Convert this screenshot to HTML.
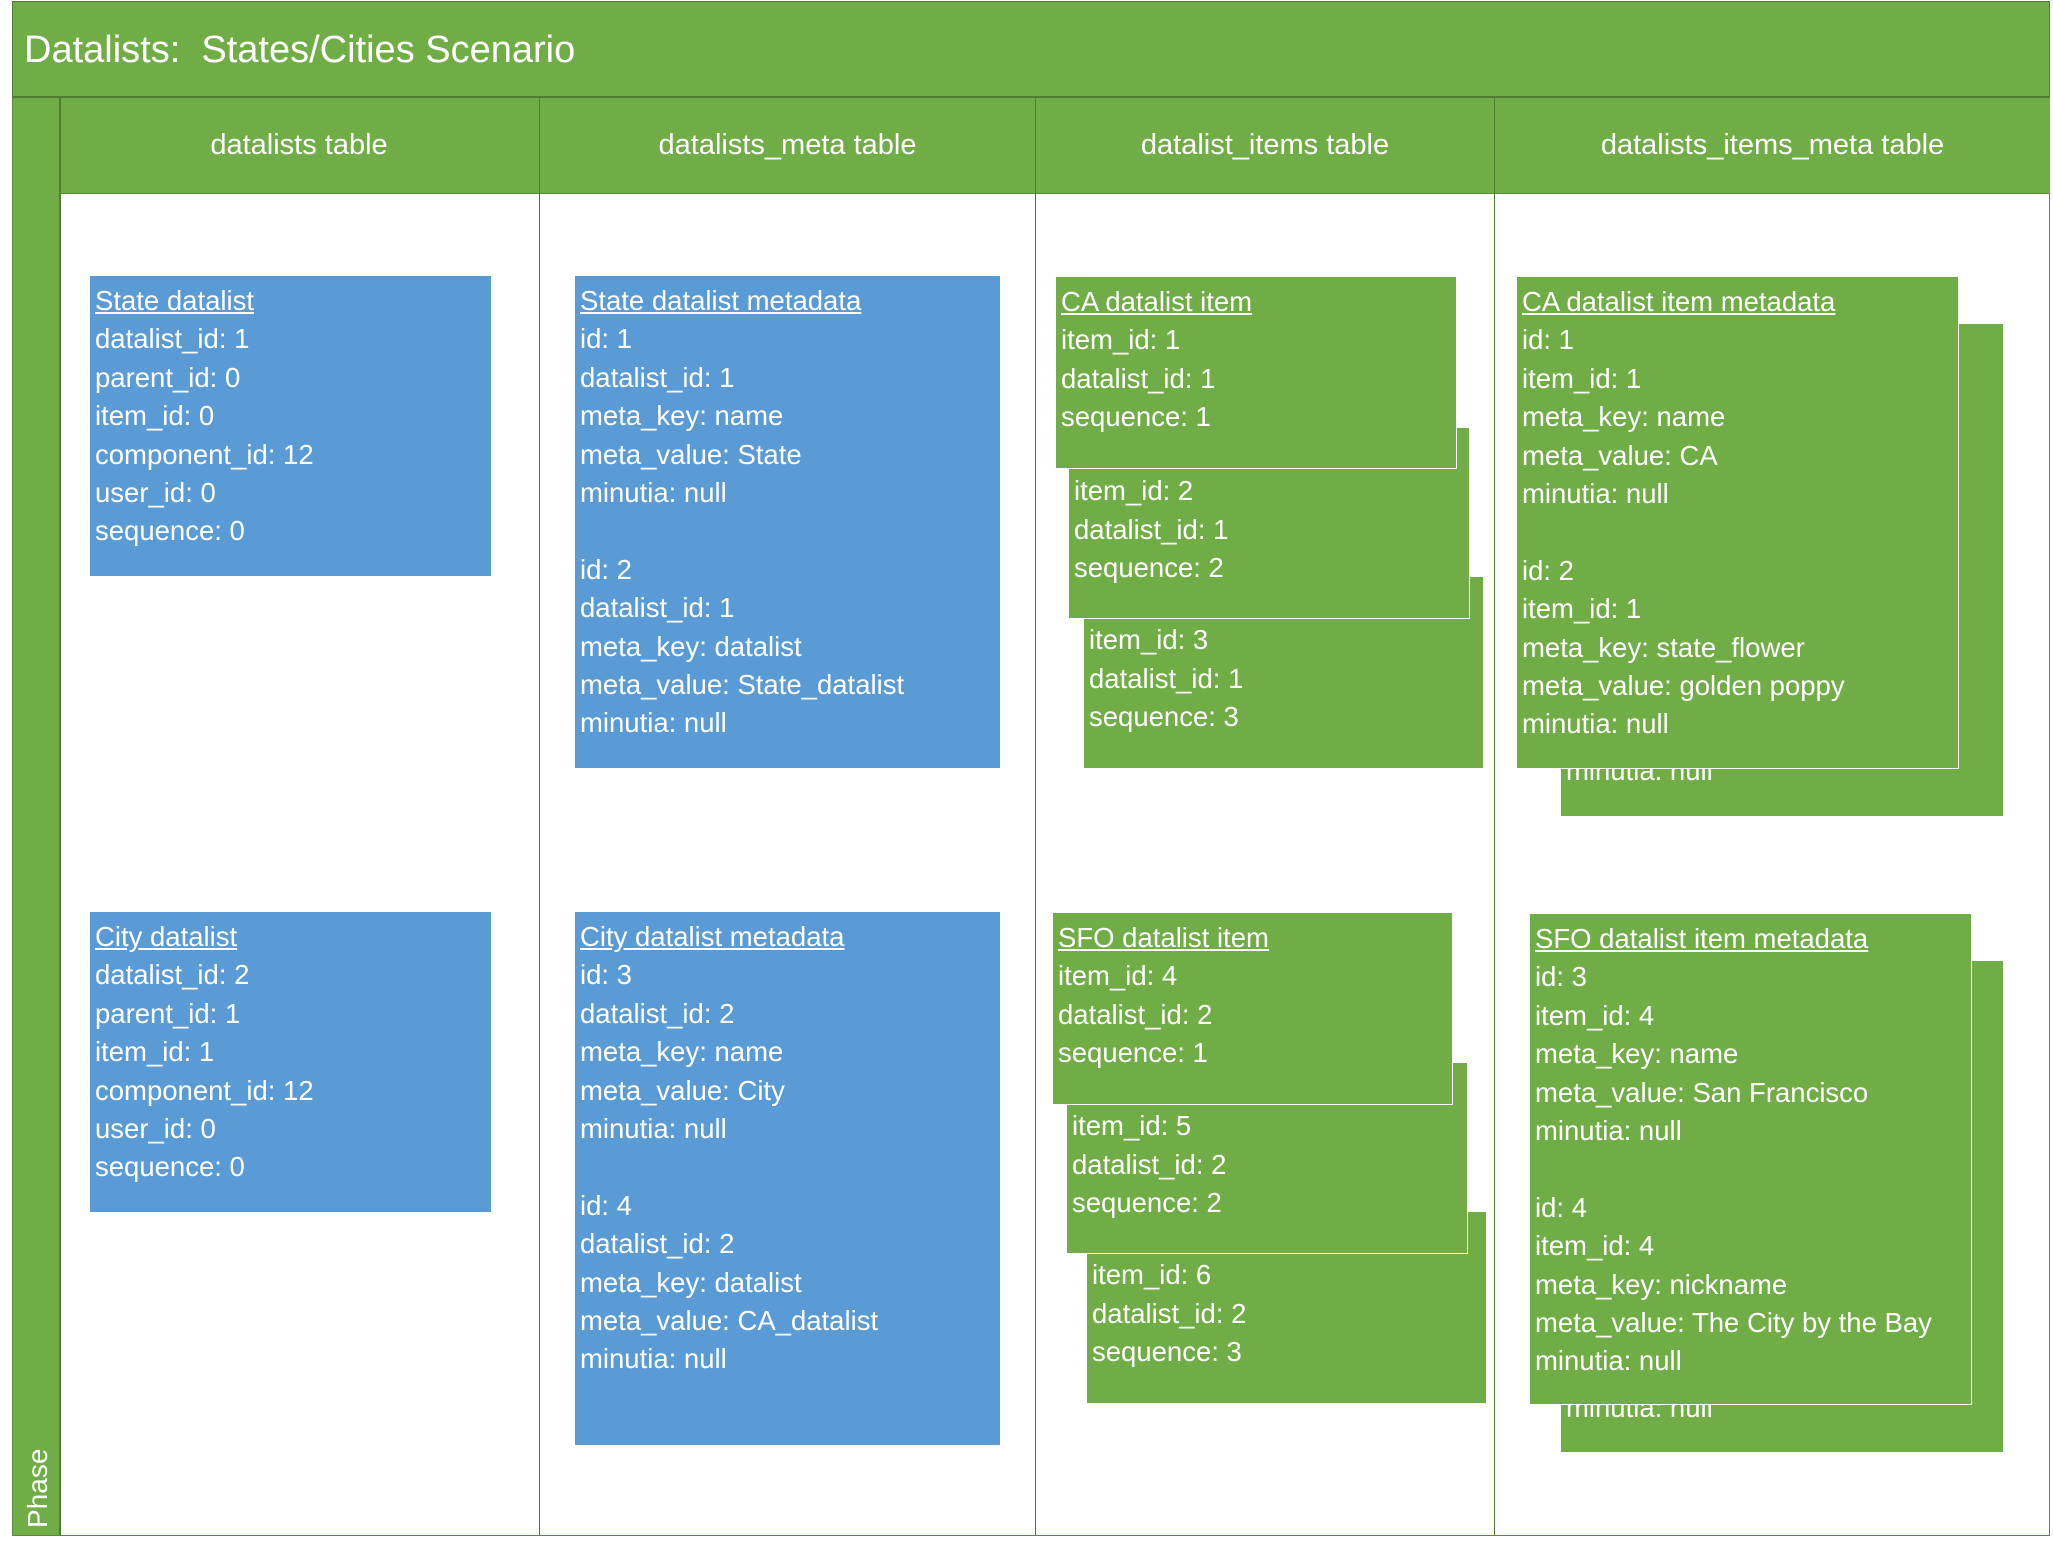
<!DOCTYPE html>
<html><head><meta charset="utf-8"><style>
*{margin:0;padding:0;box-sizing:border-box}
body{width:2053px;height:1548px;background:#fff;position:relative;overflow:hidden;font-family:"Liberation Sans",sans-serif;color:#fff}
.a{position:absolute}
.g{background:#70AD47}
.b{background:#5B9BD5}
.box{position:absolute;padding:6px 5px;font-size:27.5px;line-height:38.4px;white-space:nowrap;overflow:hidden}
.w{border:1.5px solid #fff}
.t{text-decoration:underline}
.hd{position:absolute;top:97px;height:97px;line-height:97px;text-align:center;font-size:29px;border-left:1.5px solid #4f7d33}
</style></head><body>
<div class="a g" style="left:12px;top:1px;width:2038px;height:96px;border:1.5px solid #4f7d33"></div>
<div class="a" style="left:24px;top:29px;font-size:38px;white-space:nowrap">Datalists:&nbsp; States/Cities Scenario</div>
<div class="a g" style="left:12px;top:96px;width:48px;height:1440px;border:1.5px solid #4f7d33"></div>
<div class="a" style="left:12px;top:96px;width:2038px;height:1440px;border:1.5px solid #5a8a3a;border-top:none"></div>
<div class="a g" style="left:59px;top:96px;width:1991px;height:98px;border-bottom:1px solid #5a8a3a"></div>
<div class="hd" style="left:59px;width:480px;border-left:none">datalists table</div>
<div class="hd" style="left:539px;width:496px">datalists_meta table</div>
<div class="hd" style="left:1035px;width:459px">datalist_items table</div>
<div class="hd" style="left:1494px;width:556px">datalists_items_meta table</div>
<div class="a" style="left:12px;top:96px;width:2038px;height:2px;background:#4f7d33"></div>
<div class="a" style="left:59px;top:97px;width:1.5px;height:1439px;background:#4f7d33"></div>
<div class="a" style="left:539px;top:194px;width:1px;height:1342px;background:#4f7d33"></div>
<div class="a" style="left:1035px;top:194px;width:1px;height:1342px;background:#4f7d33"></div>
<div class="a" style="left:1494px;top:194px;width:1px;height:1342px;background:#4f7d33"></div>
<div class="a" style="left:18px;top:1454px;width:40px;height:76px"><div style="position:absolute;left:-18px;top:20px;width:76px;font-size:28px;transform:rotate(-90deg);white-space:nowrap">Phase</div></div>

<div class="box b" style="left:90px;top:276px;width:401px;height:300px"><span class="t">State datalist</span><br>datalist_id: 1<br>parent_id: 0<br>item_id: 0<br>component_id: 12<br>user_id: 0<br>sequence: 0</div>
<div class="box b" style="left:575px;top:276px;width:425px;height:492px"><span class="t">State datalist metadata</span><br>id: 1<br>datalist_id: 1<br>meta_key: name<br>meta_value: State<br>minutia: null<br><br>id: 2<br>datalist_id: 1<br>meta_key: datalist<br>meta_value: State_datalist<br>minutia: null</div>
<div class="box b" style="left:90px;top:912px;width:401px;height:300px"><span class="t">City datalist</span><br>datalist_id: 2<br>parent_id: 1<br>item_id: 1<br>component_id: 12<br>user_id: 0<br>sequence: 0</div>
<div class="box b" style="left:575px;top:912px;width:425px;height:533px"><span class="t">City datalist metadata</span><br>id: 3<br>datalist_id: 2<br>meta_key: name<br>meta_value: City<br>minutia: null<br><br>id: 4<br>datalist_id: 2<br>meta_key: datalist<br>meta_value: CA_datalist<br>minutia: null</div>

<div class="box g w" style="left:1083px;top:576px;width:401px;height:193px">&nbsp;<br>item_id: 3<br>datalist_id: 1<br>sequence: 3</div>
<div class="box g w" style="left:1068px;top:427px;width:402px;height:192px">&nbsp;<br>item_id: 2<br>datalist_id: 1<br>sequence: 2</div>
<div class="box g w" style="left:1055px;top:276px;width:402px;height:193px"><span class="t">CA datalist item</span><br>item_id: 1<br>datalist_id: 1<br>sequence: 1</div>

<div class="box g w" style="left:1086px;top:1211px;width:401px;height:193px">&nbsp;<br>item_id: 6<br>datalist_id: 2<br>sequence: 3</div>
<div class="box g w" style="left:1066px;top:1062px;width:402px;height:192px">&nbsp;<br>item_id: 5<br>datalist_id: 2<br>sequence: 2</div>
<div class="box g w" style="left:1052px;top:912px;width:401px;height:193px"><span class="t">SFO datalist item</span><br>item_id: 4<br>datalist_id: 2<br>sequence: 1</div>

<div class="box g" style="left:1561px;top:324px;width:442px;height:492px"><span class="t">CA datalist item metadata</span><br>id: 1<br>item_id: 1<br>meta_key: name<br>meta_value: CA<br>minutia: null<br><br>id: 2<br>item_id: 1<br>meta_key: state_flower<br>meta_value: golden poppy<br>minutia: null</div>
<div class="box g w" style="left:1516px;top:276px;width:443px;height:493px"><span class="t">CA datalist item metadata</span><br>id: 1<br>item_id: 1<br>meta_key: name<br>meta_value: CA<br>minutia: null<br><br>id: 2<br>item_id: 1<br>meta_key: state_flower<br>meta_value: golden poppy<br>minutia: null</div>

<div class="box g" style="left:1561px;top:961px;width:442px;height:491px"><span class="t">SFO datalist item metadata</span><br>id: 3<br>item_id: 4<br>meta_key: name<br>meta_value: San Francisco<br>minutia: null<br><br>id: 4<br>item_id: 4<br>meta_key: nickname<br>meta_value: The City by the Bay<br>minutia: null</div>
<div class="box g w" style="left:1529px;top:913px;width:443px;height:492px"><span class="t">SFO datalist item metadata</span><br>id: 3<br>item_id: 4<br>meta_key: name<br>meta_value: San Francisco<br>minutia: null<br><br>id: 4<br>item_id: 4<br>meta_key: nickname<br>meta_value: The City by the Bay<br>minutia: null</div>
</body></html>
